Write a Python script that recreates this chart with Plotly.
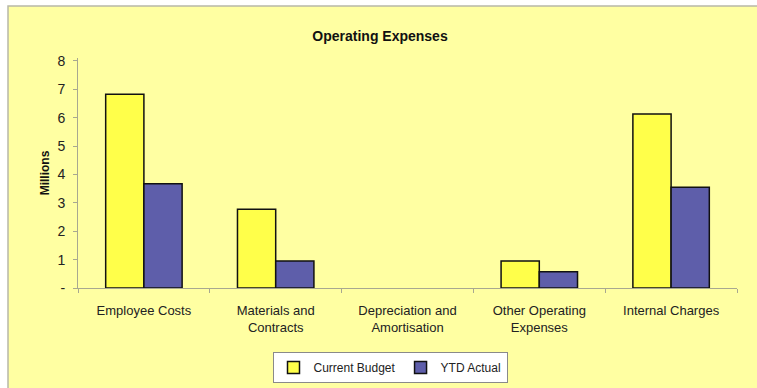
import plotly.graph_objects as go

categories = ["Employee Costs", "Materials and<br>Contracts", "Depreciation and<br>Amortisation",
              "Other Operating<br>Expenses", "Internal Charges"]
current_budget = [6.82, 2.77, 0.0, 0.95, 6.13]
ytd_actual = [3.67, 0.95, 0.0, 0.57, 3.55]
y_tick_vals = [0, 1, 2, 3, 4, 5, 6, 7, 8]
y_tick_text = ["-", "1", "2", "3", "4", "5", "6", "7", "8"]

W, H = 757, 388
ML, MR, MT, MB = 78, 20, 58, 100
PW, PH = W - ML - MR, H - MT - MB

def px_x(p):
    return (p - ML) / PW

def px_y(p):
    return (H - MB - p) / PH

def outline_widths(vals):
    return [1.5 if v > 0 else 0 for v in vals]

font = "Liberation Sans, Arial, sans-serif"

fig = go.Figure()
fig.add_trace(go.Bar(x=categories, y=current_budget, name="Current Budget",
                     marker=dict(color="#FFFF4A",
                                 line=dict(color="#111111", width=outline_widths(current_budget)))))
fig.add_trace(go.Bar(x=categories, y=ytd_actual, name="YTD Actual",
                     marker=dict(color="#5E5EAA",
                                 line=dict(color="#111111", width=outline_widths(ytd_actual)))))

fig.update_layout(
    width=W, height=H,
    margin=dict(l=ML, r=MR, t=MT, b=MB, autoexpand=False),
    paper_bgcolor="white",
    plot_bgcolor="white",
    barmode="group",
    bargap=0.42,
    bargroupgap=0,
    font=dict(family=font, size=12, color="#222222"),
    title=dict(text="<b>Operating Expenses</b>", x=0.502, xanchor="center",
               y=1 - 36 / H, yanchor="middle", font=dict(size=14, color="#111111")),
    showlegend=True,
    legend=dict(orientation="h", x=px_x(390), xanchor="center", y=px_y(352), yanchor="top",
                bgcolor="white", bordercolor="#8a8a8a", borderwidth=1,
                font=dict(size=12, color="#222222"), itemwidth=30,
                traceorder="normal"),
    shapes=[dict(type="rect", xref="paper", yref="paper", layer="below",
                 x0=px_x(8), x1=px_x(W + 20), y0=px_y(6), y1=px_y(H + 20),
                 fillcolor="#FFFFA2", line=dict(color="#b8b8a8", width=1.5))],
)
fig.update_xaxes(type="category", showline=True, linecolor="#a8a890", linewidth=1,
                 ticks="outside", tickson="boundaries", ticklen=4, tickcolor="#a8a890",
                 showgrid=False, tickfont=dict(size=13, color="#222222"),
                 ticklabelstandoff=10)
fig.update_yaxes(range=[0, 8.1], tickvals=y_tick_vals, ticktext=y_tick_text,
                 showline=True, linecolor="#a8a890", linewidth=1, ticks="outside",
                 ticklen=4, tickcolor="#a8a890", showgrid=False, zeroline=False,
                 tickfont=dict(size=14, color="#222222"), ticklabelstandoff=5,
                 title=dict(text="<b>Millions</b>", standoff=5, font=dict(size=12, color="#111111")))

fig.write_html("out.html")
